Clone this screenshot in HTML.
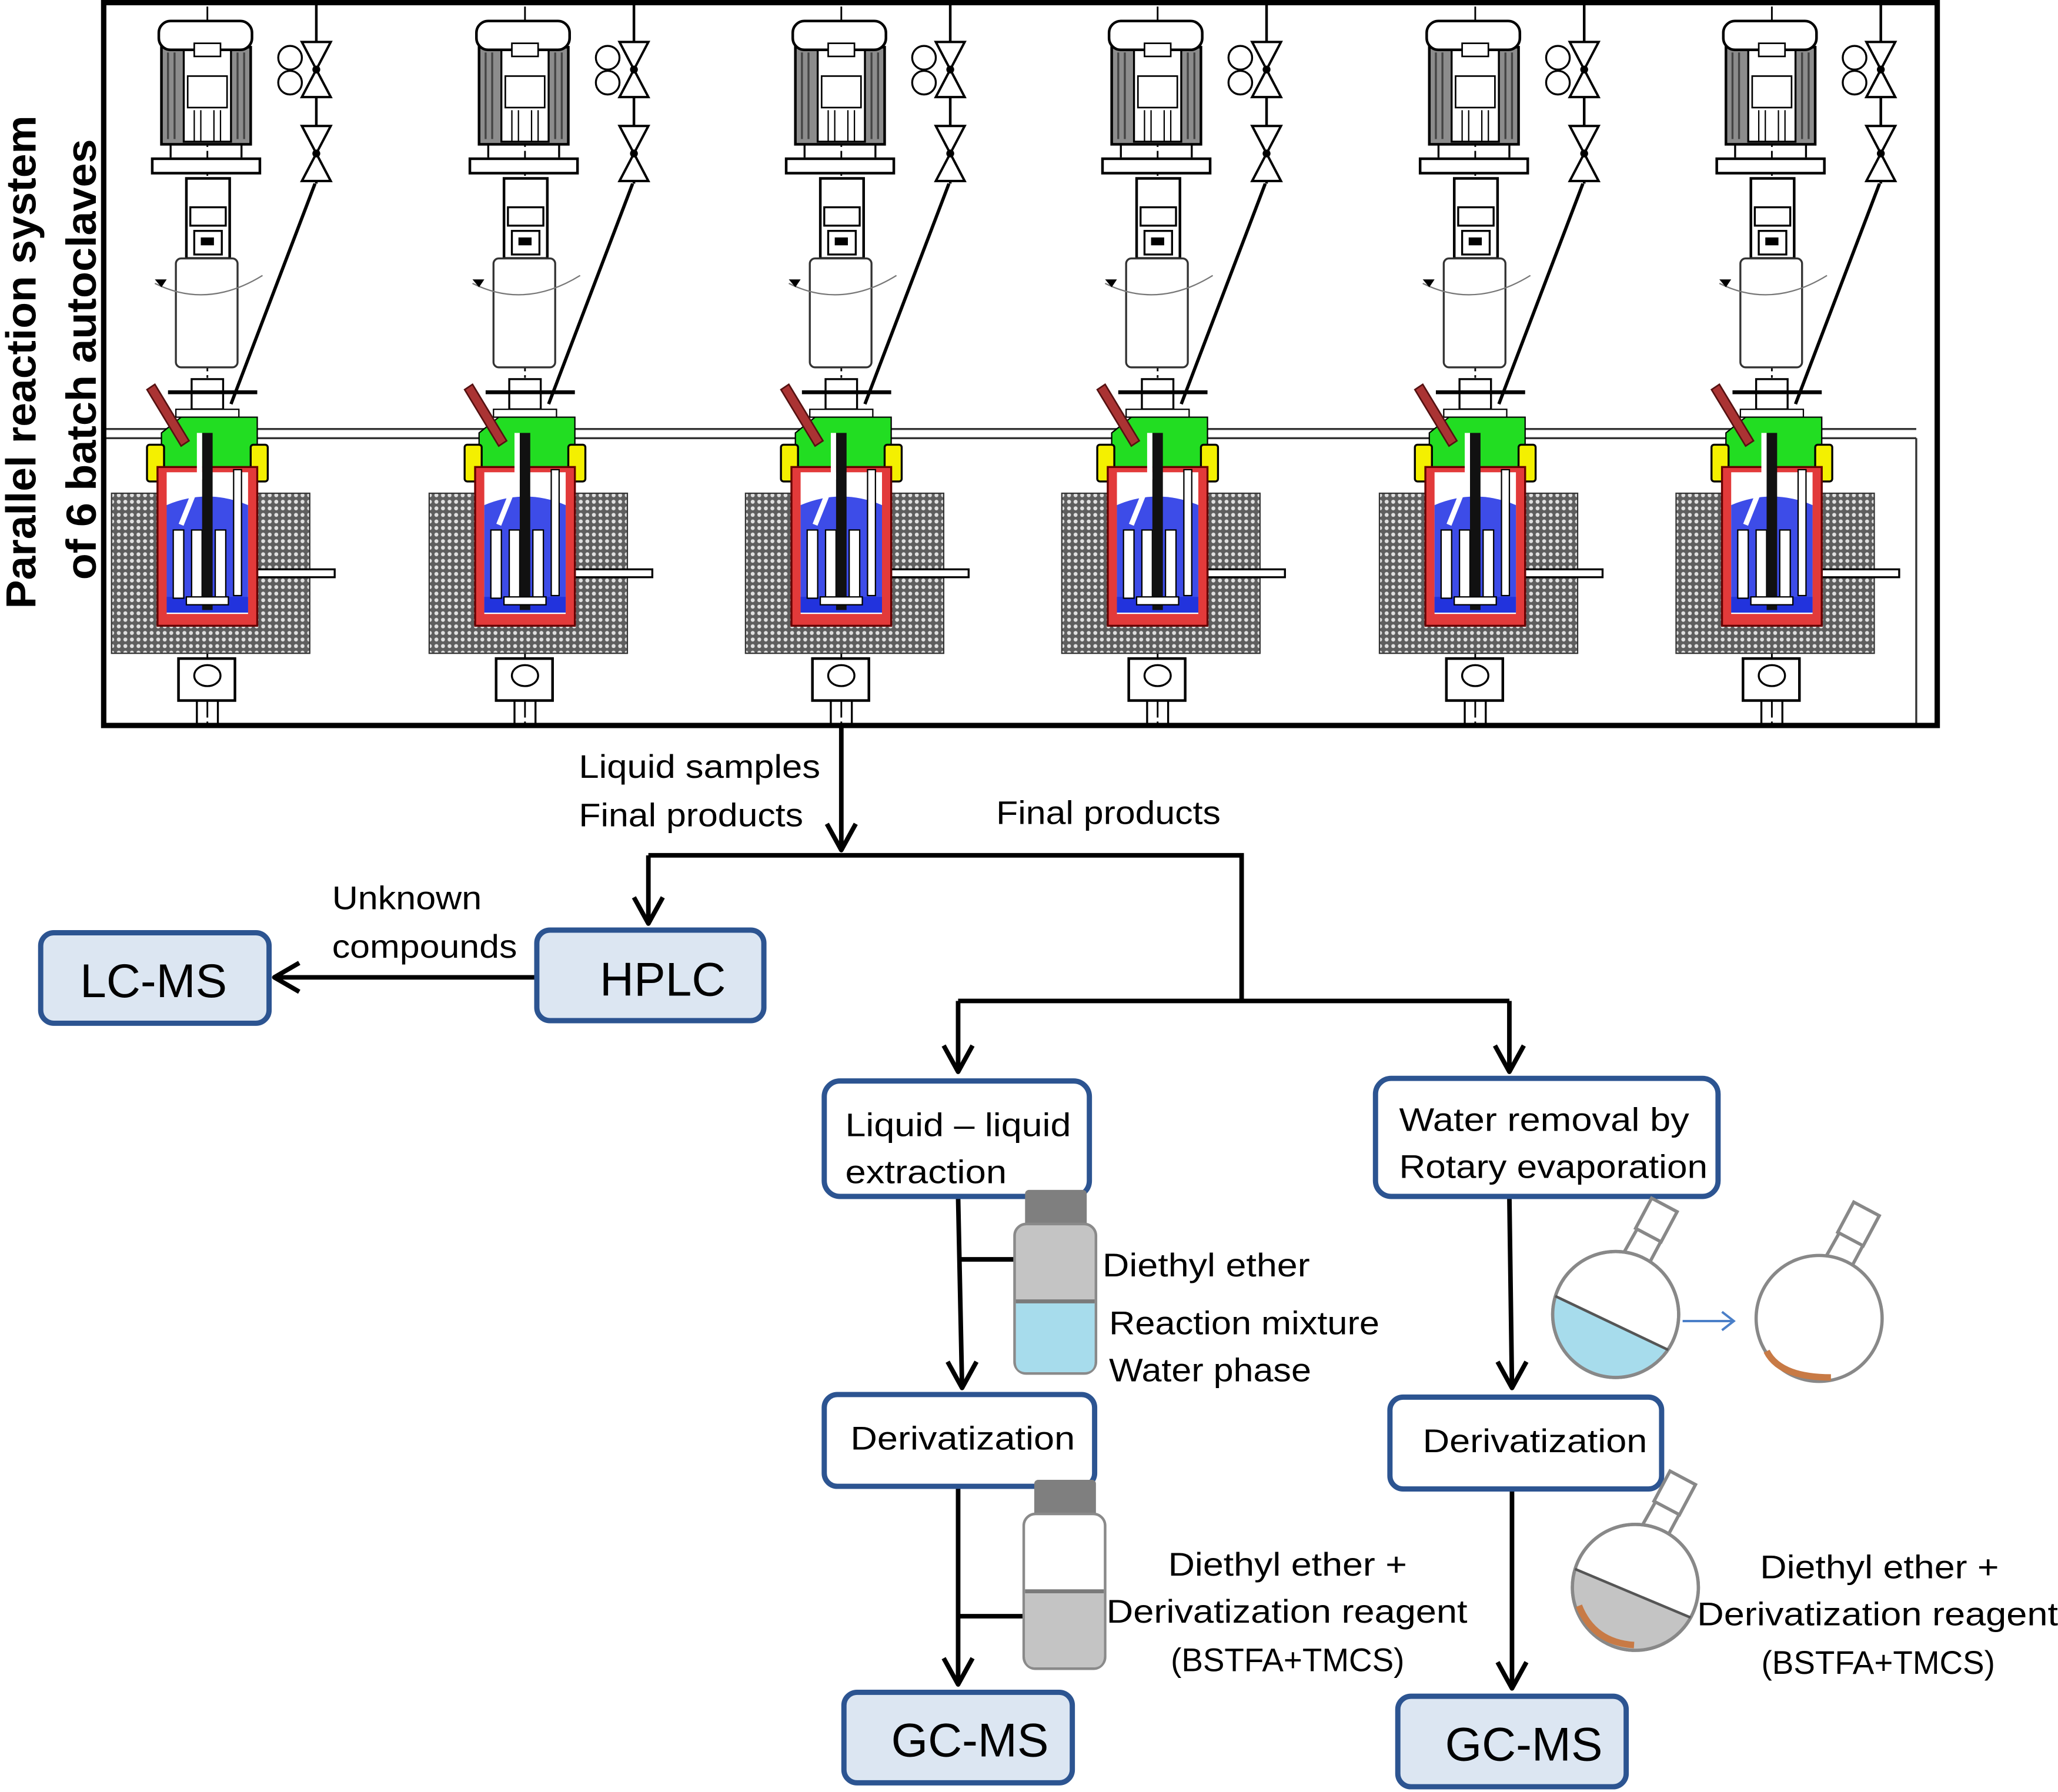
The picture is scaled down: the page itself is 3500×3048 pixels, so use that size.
<!DOCTYPE html>
<html><head><meta charset="utf-8"><style>
html,body{margin:0;padding:0;background:#fff;}
svg{display:block;}
text{font-family:"Liberation Sans",sans-serif;fill:#000;}
</style></head><body>
<svg width="3500" height="3048" viewBox="0 0 1568 1366" preserveAspectRatio="none" xmlns="http://www.w3.org/2000/svg">
<defs>
<pattern id="hatch" width="5" height="5" patternUnits="userSpaceOnUse">
<rect width="5" height="5" fill="#5e5e5e"/>
<circle cx="2.5" cy="2.5" r="1.5" fill="#e0e0e0"/>
</pattern>
<g id="r">
 <line x1="0" y1="5" x2="0" y2="555" stroke="#000" stroke-width="1.3" stroke-dasharray="14 3 2 3"/>
 <rect x="-35" y="36" width="68" height="74" fill="#8c8c8c" stroke="#000" stroke-width="2"/>
 <g stroke="#444" stroke-width="1.5"><line x1="-30" y1="40" x2="-30" y2="106"/><line x1="-25" y1="40" x2="-25" y2="106"/><line x1="23" y1="40" x2="23" y2="106"/><line x1="28" y1="40" x2="28" y2="106"/></g>
 <rect x="-18" y="38" width="36" height="70" fill="#fff" stroke="#000" stroke-width="1.5"/>
 <rect x="-15" y="58" width="30" height="24" fill="#fff" stroke="#000" stroke-width="1.2"/>
 <g stroke="#000" stroke-width="1"><line x1="-10" y1="84" x2="-10" y2="108"/><line x1="-5" y1="84" x2="-5" y2="108"/><line x1="5" y1="84" x2="5" y2="108"/><line x1="10" y1="84" x2="10" y2="108"/></g>
 <rect x="-37" y="16" width="71" height="22" rx="9" fill="#fff" stroke="#000" stroke-width="2"/>
 <rect x="-10" y="33" width="20" height="10" fill="#fff" stroke="#000" stroke-width="1.2"/>
 <line x1="-28" y1="110" x2="-28" y2="120" stroke="#000" stroke-width="1.5"/><line x1="26" y1="110" x2="26" y2="120" stroke="#000" stroke-width="1.5"/>
 <rect x="-42" y="121" width="82" height="11" fill="#fff" stroke="#000" stroke-width="2"/>
 <rect x="-16" y="136" width="33" height="61" fill="#fff" stroke="#000" stroke-width="2"/>
 <rect x="-13" y="158" width="27" height="14" fill="#fff" stroke="#000" stroke-width="1.5"/>
 <rect x="-10" y="176" width="21" height="18" fill="#fff" stroke="#000" stroke-width="1.5"/>
 <rect x="-5" y="181" width="10" height="6" fill="#000"/>
 <rect x="-24" y="197" width="47" height="83" rx="4" fill="#fff" stroke="#333" stroke-width="1.5"/>
 <path d="M-40 216 Q0 236 42 210" fill="none" stroke="#777" stroke-width="1"/>
 <path d="M-40 213 l9 0 l-4 6z" fill="#000"/>
 <rect x="-12" y="289" width="24" height="23" fill="#fff" stroke="#000" stroke-width="1.5"/>
 <line x1="-30" y1="299" x2="38" y2="299" stroke="#000" stroke-width="3"/>
 <rect x="-24" y="312" width="48" height="6" fill="#fff" stroke="#000" stroke-width="1"/>
 <path d="M-35 330 L-20 318 L38 318 L38 358 L-35 358 Z" fill="#22dd22" stroke="#000" stroke-width="1"/>
 <rect x="-46" y="339" width="13" height="28" rx="2" fill="#f4f000" stroke="#000" stroke-width="1.5"/>
 <rect x="33" y="339" width="13" height="28" rx="2" fill="#f4f000" stroke="#000" stroke-width="1.5"/>
 <rect x="-73" y="376" width="151" height="122" fill="url(#hatch)" stroke="#333" stroke-width="1"/>
 <rect x="38" y="434" width="59" height="6" fill="#fff" stroke="#000" stroke-width="1.5"/>
 <rect x="-38" y="356" width="76" height="121" fill="#e23a3a" stroke="#600" stroke-width="1.5"/>
 <rect x="-31" y="360" width="62" height="108" fill="#fff"/>
 <path d="M-31 385 Q0 372 31 385 L31 467 L-31 467Z" fill="#3d4ce8"/>
 <rect x="-31" y="455" width="62" height="12" fill="#2233dd"/>
 <g fill="#fff" stroke="#000" stroke-width="1">
  <rect x="-26" y="404" width="8" height="52"/><rect x="-12" y="404" width="8" height="52"/><rect x="6" y="404" width="8" height="52"/><rect x="20" y="358" width="6" height="96"/>
 </g>
 <rect x="-4" y="330" width="8" height="135" fill="#111"/>
 <rect x="-16" y="455" width="32" height="6" fill="#fff" stroke="#000" stroke-width="1"/>
 <path d="M-20 400 L-6 365 L-6 330" fill="none" stroke="#fff" stroke-width="4"/>
 <path d="M-46 297 L-40 293 L-14 336 L-20 340 Z" fill="#a33" stroke="#511" stroke-width="1.2"/>
 <rect x="-22" y="502" width="43" height="32" fill="#fff" stroke="#000" stroke-width="2"/>
 <ellipse cx="0" cy="515" rx="10" ry="8" fill="none" stroke="#000" stroke-width="1.5"/>
 <line x1="-8" y1="534" x2="-8" y2="553" stroke="#000" stroke-width="1.5"/><line x1="8" y1="534" x2="8" y2="553" stroke="#000" stroke-width="1.5"/>
 <line x1="83" y1="0" x2="83" y2="140" stroke="#000" stroke-width="2"/>
 <path d="M72 32 L94 32 L72 74 L94 74 Z" fill="#fff" stroke="#000" stroke-width="1.8"/>
 <path d="M72 96 L94 96 L72 138 L94 138 Z" fill="#fff" stroke="#000" stroke-width="1.8"/>
 <circle cx="83" cy="53" r="3" fill="#000"/><circle cx="83" cy="117" r="3" fill="#000"/>
 <circle cx="63" cy="44" r="9" fill="#fff" stroke="#000" stroke-width="1.5"/>
 <circle cx="63" cy="63" r="9" fill="#fff" stroke="#000" stroke-width="1.5"/>
 <line x1="82" y1="140" x2="18" y2="308" stroke="#000" stroke-width="2.5"/>
</g>
</defs>

<rect x="79" y="2" width="1397" height="551" fill="#fff" stroke="#000" stroke-width="4"/>
<line x1="80" y1="327" x2="1460" y2="327" stroke="#333" stroke-width="1.5"/>
<line x1="80" y1="334" x2="1460" y2="334" stroke="#333" stroke-width="1.5"/>
<line x1="1460" y1="334" x2="1460" y2="551" stroke="#333" stroke-width="1.5"/>
<use href="#r" x="158"/>
<use href="#r" x="400"/>
<use href="#r" x="641"/>
<use href="#r" x="882"/>
<use href="#r" x="1124"/>
<use href="#r" x="1350"/>
<rect x="79" y="2" width="1397" height="551" fill="none" stroke="#000" stroke-width="4"/>

<text transform="translate(27,276) rotate(-90)" text-anchor="middle" font-size="32" font-weight="bold" textLength="376" lengthAdjust="spacingAndGlyphs">Parallel reaction system</text>
<text transform="translate(73,274) rotate(-90)" text-anchor="middle" font-size="32" font-weight="bold" textLength="336" lengthAdjust="spacingAndGlyphs">of 6 batch autoclaves</text>

<g fill="none" stroke="#000" stroke-width="3.5">
 <path d="M641 555 V648"/>
 <path d="M494 652 H946 V763"/>
 <path d="M494 652 V703"/>
 <path d="M730 763 H1150"/>
 <path d="M730 763 V817"/><path d="M1150 763 V817"/>
 <path d="M408 745 H212"/>
 <path d="M730 913 L733 1057"/>
 <path d="M730 960 H788"/>
 <path d="M1150 913 L1152 1058"/>
 <path d="M730 1134 V1283"/>
 <path d="M730 1232 H786"/>
 <path d="M1152 1136 V1286"/>
</g>
<g fill="none" stroke="#000" stroke-width="3.5" stroke-linejoin="round">
 <path d="M630 628 L641 648 L652 628"/>
 <path d="M483 684 L494 704 L505 684"/>
 <path d="M719 797 L730 817 L741 797"/>
 <path d="M1139 797 L1150 817 L1161 797"/>
 <path d="M228 734 L209 745 L228 756"/>
 <path d="M722 1038 L733 1058 L744 1038"/>
 <path d="M1141 1038 L1152 1058 L1163 1038"/>
 <path d="M719 1264 L730 1284 L741 1264"/>
 <path d="M1141 1267 L1152 1287 L1163 1267"/>
</g>

<g font-size="25">
 <text x="441" y="593" textLength="184" lengthAdjust="spacingAndGlyphs">Liquid samples</text>
 <text x="441" y="630" textLength="171" lengthAdjust="spacingAndGlyphs">Final products</text>
 <text x="759" y="628" textLength="171" lengthAdjust="spacingAndGlyphs">Final products</text>
 <text x="253" y="693" textLength="114" lengthAdjust="spacingAndGlyphs">Unknown</text>
 <text x="253" y="730" textLength="141" lengthAdjust="spacingAndGlyphs">compounds</text>
 <text x="840" y="973" textLength="158" lengthAdjust="spacingAndGlyphs">Diethyl ether</text>
 <text x="845" y="1017" textLength="206" lengthAdjust="spacingAndGlyphs">Reaction mixture</text>
 <text x="845" y="1053" textLength="154" lengthAdjust="spacingAndGlyphs">Water phase</text>
 <text x="890" y="1201" textLength="182" lengthAdjust="spacingAndGlyphs">Diethyl ether +</text>
 <text x="843" y="1237" textLength="275" lengthAdjust="spacingAndGlyphs">Derivatization reagent</text>
 <text x="892" y="1274" textLength="178" lengthAdjust="spacingAndGlyphs">(BSTFA+TMCS)</text>
 <text x="1341" y="1203" textLength="182" lengthAdjust="spacingAndGlyphs">Diethyl ether +</text>
 <text x="1293" y="1239" textLength="275" lengthAdjust="spacingAndGlyphs">Derivatization reagent</text>
 <text x="1342" y="1276" textLength="178" lengthAdjust="spacingAndGlyphs">(BSTFA+TMCS)</text>
</g>

<g stroke="#2c5491" stroke-width="4">
 <rect x="31" y="711" width="174" height="69" rx="10" fill="#dce6f2"/>
 <rect x="409" y="709" width="173" height="69" rx="10" fill="#dce6f2"/>
 <rect x="628" y="824" width="202" height="88" rx="12" fill="#fff"/>
 <rect x="1048" y="822" width="261" height="90" rx="12" fill="#fff"/>
 <rect x="628" y="1063" width="206" height="70" rx="10" fill="#fff"/>
 <rect x="1059" y="1065" width="207" height="70" rx="10" fill="#fff"/>
 <rect x="643" y="1290" width="174" height="69" rx="10" fill="#dce6f2"/>
 <rect x="1065" y="1293" width="174" height="69" rx="10" fill="#dce6f2"/>
</g>
<g font-size="36" text-anchor="middle">
 <text x="117" y="760">LC-MS</text>
 <text x="505" y="759">HPLC</text>
 <text x="739" y="1339">GC-MS</text>
 <text x="1161" y="1342">GC-MS</text>
</g>
<g font-size="25">
 <text x="644" y="866" textLength="172" lengthAdjust="spacingAndGlyphs">Liquid – liquid</text>
 <text x="644" y="902" textLength="123" lengthAdjust="spacingAndGlyphs">extraction</text>
 <text x="1066" y="862" textLength="221" lengthAdjust="spacingAndGlyphs">Water removal  by</text>
 <text x="1066" y="898" textLength="235" lengthAdjust="spacingAndGlyphs">Rotary evaporation</text>
 <text x="648" y="1105" textLength="171" lengthAdjust="spacingAndGlyphs">Derivatization</text>
 <text x="1084" y="1107" textLength="171" lengthAdjust="spacingAndGlyphs">Derivatization</text>
</g>

<rect x="781" y="907" width="47" height="28" rx="3" fill="#7f7f7f"/>
<rect x="773" y="933" width="62" height="114" rx="9" fill="#c4c4c4" stroke="#8a8a8a" stroke-width="2"/>
<path d="M774 993 H834 V1038 Q834 1046 826 1046 H782 Q774 1046 774 1038Z" fill="#a7dcec"/>
<line x1="774" y1="992" x2="834" y2="992" stroke="#7a7a7a" stroke-width="3"/>
<rect x="788" y="1128" width="47" height="28" rx="3" fill="#7f7f7f"/>
<rect x="780" y="1154" width="62" height="118" rx="9" fill="#fff" stroke="#8a8a8a" stroke-width="2"/>
<path d="M781 1214 H841 V1262 Q841 1271 833 1271 H789 Q781 1271 781 1262Z" fill="#c4c4c4"/>
<line x1="781" y1="1213" x2="841" y2="1213" stroke="#7a7a7a" stroke-width="3"/>

<!-- flask 1 -->
<g stroke="#888" stroke-width="2.5" fill="#fff">
 <path d="M1236 957 L1254 925 L1272 934 L1256 964"/>
 <rect x="1251" y="917" width="22" height="26" transform="rotate(28 1262 930)"/>
 <circle cx="1231" cy="1002" r="48"/>
</g>
<path d="M1185 988 L1271 1029 A48 48 0 0 1 1185 988Z" fill="#a7dcec"/>
<circle cx="1231" cy="1002" r="48" fill="none" stroke="#888" stroke-width="2.5"/>
<line x1="1185" y1="988" x2="1271" y2="1029" stroke="#555" stroke-width="2"/>
<path d="M1282 1007 H1320 M1312 1000 L1321 1007 L1312 1014" fill="none" stroke="#4a7fc8" stroke-width="1.8"/>
<!-- flask 2 -->
<g stroke="#888" stroke-width="2.5" fill="#fff">
 <path d="M1390 960 L1408 928 L1426 937 L1410 967"/>
 <rect x="1405" y="920" width="22" height="26" transform="rotate(28 1416 933)"/>
 <circle cx="1386" cy="1005" r="48"/>
</g>
<path d="M1346 1030 Q1356 1050 1395 1050" fill="none" stroke="#c87a45" stroke-width="5"/>
<!-- flask 3 -->
<g stroke="#888" stroke-width="2.5" fill="#fff">
 <path d="M1250 1165 L1268 1133 L1286 1142 L1270 1172"/>
 <rect x="1265" y="1125" width="22" height="26" transform="rotate(28 1276 1138)"/>
 <circle cx="1246" cy="1210" r="48"/>
</g>
<path d="M1200 1196 L1288 1233 A48 48 0 0 1 1200 1196Z" fill="#c4c4c4"/>
<circle cx="1246" cy="1210" r="48" fill="none" stroke="#888" stroke-width="2.5"/>
<line x1="1200" y1="1196" x2="1288" y2="1233" stroke="#555" stroke-width="2"/>
<path d="M1203 1224 Q1214 1252 1245 1254" fill="none" stroke="#c87a45" stroke-width="5"/>
</svg>
</body></html>
